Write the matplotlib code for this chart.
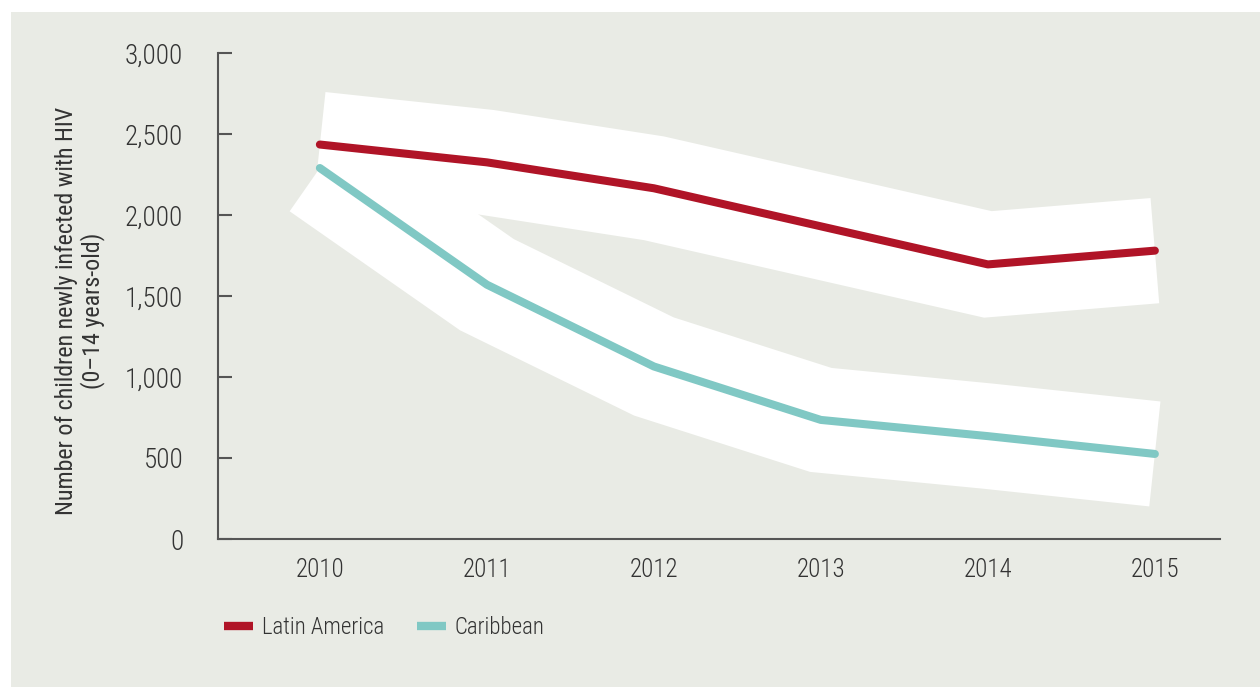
import matplotlib
matplotlib.use('Agg')
import matplotlib.pyplot as plt
from matplotlib.lines import Line2D
from matplotlib.patches import Rectangle

years = [2010, 2011, 2012, 2013, 2014, 2015]
latin_america = [2435, 2325, 2165, 1930, 1695, 1780]
caribbean = [2290, 1570, 1065, 735, 635, 525]
series_names = ['Latin America', 'Caribbean']
yticks = [0, 500, 1000, 1500, 2000, 2500, 3000]
ytick_labels = ['0', '500', '1,000', '1,500', '2,000', '2,500', '3,000']

plt.rcParams['font.family'] = ['Roboto Condensed', 'Liberation Sans Narrow', 'DejaVu Sans']
plt.rcParams['font.stretch'] = 'condensed'
plt.rcParams['font.weight'] = 'light'

bg = '#e9ebe5'
red = '#b01427'
teal = '#80c8c4'
txt = '#333333'

fig = plt.figure(figsize=(12.6, 6.87), dpi=100)
fig.patches.append(Rectangle((11 / 1260, 0), 1, 1 - 12 / 687, transform=fig.transFigure,
                             facecolor=bg, edgecolor='none', zorder=-10))

ax = fig.add_axes([218 / 1260, 1 - 539 / 687, 1002 / 1260, 486 / 687])
ax.set_facecolor('none')

# white uncertainty bands = very thick white lines behind
for vals in [latin_america, caribbean]:
    ax.plot(years, vals, color='white', linewidth=76, solid_capstyle='butt',
            solid_joinstyle='miter', zorder=1)
ax.plot(years, latin_america, color=red, linewidth=5.8, solid_capstyle='round', zorder=3)
ax.plot(years, caribbean, color=teal, linewidth=5.8, solid_capstyle='round', zorder=3)

ax.set_xlim(2009.39, 2015.39)
ax.set_ylim(0, 3000)
ax.set_xticks(years)
ax.set_xticklabels([str(y) for y in years])
ax.set_yticks(yticks)
ax.set_yticklabels(ytick_labels)

for s in ['top', 'right']:
    ax.spines[s].set_visible(False)
for s in ['left', 'bottom']:
    ax.spines[s].set_color('#555555')
    ax.spines[s].set_linewidth(1.5)
    ax.spines[s].set_zorder(0)

ax.tick_params(axis='y', direction='in', length=10, width=1.5, color='#555555',
               pad=25, labelsize=19.5, labelcolor=txt)
ax.tick_params(axis='x', length=0, pad=14, labelsize=18, labelcolor=txt)

ax.set_ylabel('Number of children newly infected with HIV\n(0–14 years-old)',
              fontsize=17.3, color=txt, linespacing=1.1)
ax.yaxis.set_label_coords(-0.113, 0.47)

handles = [Line2D([], [], color=red, linewidth=6, solid_capstyle='butt'),
           Line2D([], [], color=teal, linewidth=6, solid_capstyle='butt')]
fig.legend(handles, series_names, loc='center left', bbox_to_anchor=(224 / 1260, 1 - 628 / 687),
           ncol=2, frameon=False, fontsize=16.5, handlelength=1.26, handletextpad=0.39,
           columnspacing=1.43, borderpad=0, borderaxespad=0, labelcolor=txt)

fig.savefig('out.png', dpi=100)
